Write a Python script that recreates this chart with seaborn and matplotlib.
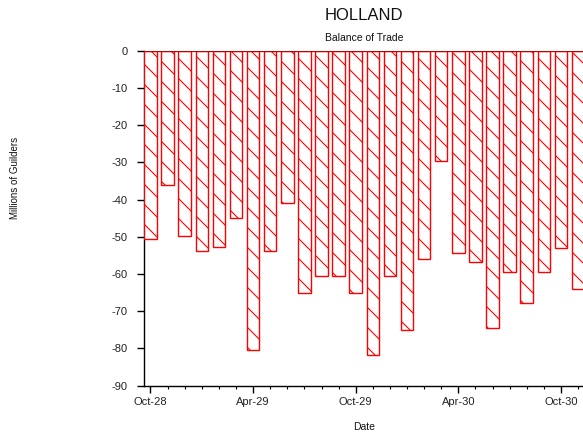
import matplotlib
matplotlib.use("Agg")
import matplotlib.pyplot as plt
import seaborn as sns
import pandas as pd
from matplotlib.ticker import FixedLocator

months = ["Oct-28", "Nov-28", "Dec-28", "Jan-29", "Feb-29", "Mar-29", "Apr-29",
          "May-29", "Jun-29", "Jul-29", "Aug-29", "Sep-29", "Oct-29", "Nov-29",
          "Dec-29", "Jan-30", "Feb-30", "Mar-30", "Apr-30", "May-30", "Jun-30",
          "Jul-30", "Aug-30", "Sep-30", "Oct-30", "Nov-30"]
balance = [-50.6, -36.2, -49.7, -53.7, -52.8, -45.0, -80.4, -53.9, -40.8, -65.2,
           -60.4, -60.6, -65.2, -81.8, -60.4, -75.1, -56.0, -29.5, -54.3, -56.9,
           -74.4, -59.4, -67.9, -59.4, -52.9, -64.1]
tick_labels = ["Oct-28", "Apr-29", "Oct-29", "Apr-30", "Oct-30"]
y_ticks = [0, -10, -20, -30, -40, -50, -60, -70, -80, -90]

DPI = 120
S = 100 / DPI  # convert sizes designed for 100 dpi

sns.set_theme(style="ticks")
plt.rcParams['font.family'] = ['Liberation Sans', 'DejaVu Sans']
plt.rcParams['hatch.linewidth'] = 0.8 * S

df = pd.DataFrame({"Date": months, "Balance": balance})

fig = plt.figure(figsize=(583 / DPI, 437 / DPI), dpi=DPI)
ax = fig.add_axes([144 / 583, 1 - 385.7 / 437, 1 - 144 / 583, (385.7 - 50.7) / 437])

sns.barplot(data=df, x="Date", y="Balance", order=months, color="white",
            saturation=1, edgecolor="red", linewidth=1.0 * S, hatch="\\\\",
            width=0.73, ax=ax, zorder=3)
ax.axhline(0, color="#c00000", lw=1.6 * S, zorder=4)

ax.set_ylim(-90, 0)
ax.set_xlim(-0.38, 25.29)
ax.set_yticks(y_ticks)
ax.set_yticklabels([str(v) for v in y_ticks])
ax.set_xticks([months.index(t) for t in tick_labels])
ax.set_xticklabels(tick_labels)
ax.xaxis.set_minor_locator(FixedLocator(list(range(len(months)))))
ax.tick_params(axis="both", which="major", labelsize=8 * S, length=4.8 * S,
               width=1.0 * S, color="black", labelcolor="#222222")
ax.tick_params(axis="y", pad=7 * S)
ax.tick_params(axis="x", pad=3 * S)
ax.tick_params(axis="x", which="minor", length=2.4 * S, width=0.8 * S, color="black")
ax.set_xlabel("")
ax.set_ylabel("")
for s in ["top", "right"]:
    ax.spines[s].set_visible(False)
for s in ["left", "bottom"]:
    ax.spines[s].set_color("black")
    ax.spines[s].set_linewidth(1.0 * S)

fig.text(364 / 583, 1 - 16 / 437, "HOLLAND", ha="center", va="center",
         fontsize=12 * S, color="#111111")
fig.text(364 / 583, 1 - 38 / 437, "Balance of Trade", ha="center", va="center",
         fontsize=7.5 * S, color="#111111")
fig.text(364 / 583, 1 - 426.5 / 437, "Date", ha="center", va="center",
         fontsize=7.5 * S, color="#111111")
fig.text(15 / 583, 1 - 178 / 437, "Millions of Guilders", ha="center", va="center",
         rotation=90, fontsize=7 * S, color="#111111")

fig.savefig("out.png", dpi=DPI)
